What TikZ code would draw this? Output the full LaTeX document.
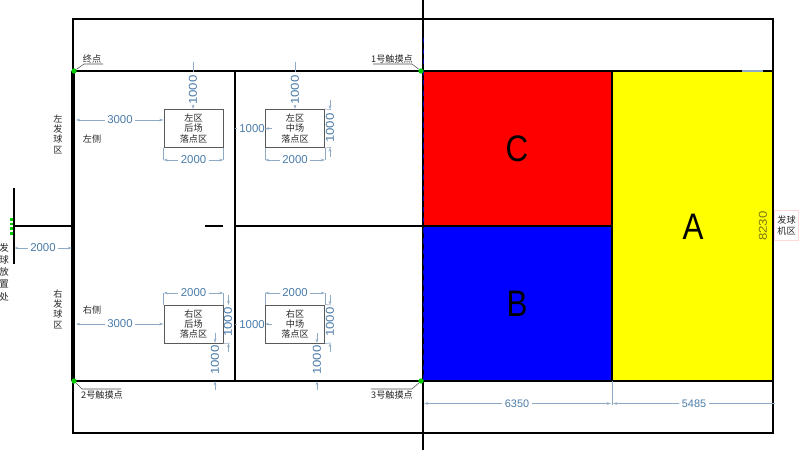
\documentclass[tikz,border=0pt]{standalone}
\usepackage{fontspec}
\usetikzlibrary{arrows.meta}
\setmainfont{Liberation Sans}
\newfontfamily\cjk{Noto Sans CJK SC}
\tikzset{
  dimtext/.style={text=dimblue, font=\fontsize{6.5}{7}\selectfont, inner sep=1.2pt},
  dimvert/.style={dimtext, rotate=90, xscale=1.16},
  dimline/.style={color=dimgray, line width=0.35pt, >={Stealth[length=2.4pt,width=1.5pt]}},
  extline/.style={color=dimgray, line width=0.35pt},
  cntext/.style={font=\cjk\fontsize{5.2}{5.9}\selectfont, align=center, inner sep=0.5pt, text=black!85},
  zonebox/.style={draw=black!65, line width=0.55pt, minimum width=1.18cm, minimum height=0.76cm, cntext},
  hitdot/.style={fill=green!80!black, draw=none, circle, minimum size=3pt, inner sep=0pt},
  leader/.style={color=black!70, line width=0.3pt},
  letter/.style={font=\fontsize{21}{21}\selectfont, text=black, xscale=0.85}
}
\definecolor{dimblue}{HTML}{4A7BA8}
\definecolor{dimgray}{HTML}{8FAAC4}
\definecolor{zonered}{RGB}{255,0,0}
\definecolor{zoneblue}{RGB}{0,0,255}
\definecolor{zoneyellow}{RGB}{255,255,0}
\begin{document}
\begin{tikzpicture}[x=0.02cm, y=-0.02cm]
\useasboundingbox (0,0) rectangle (800,450);

\coordinate (LT) at (73,71);
\coordinate (LB) at (73,381);
\coordinate (MT) at (423,71);
\coordinate (MB) at (423,381);
\coordinate (RT) at (773,71);
\coordinate (RB) at (773,381);
\coordinate (ST) at (612,71);
\coordinate (SB) at (612,381);
\coordinate (MM) at (423,226);
\coordinate (SM) at (612,226);
\coordinate (HT) at (235,71);
\coordinate (HB) at (235,381);
\coordinate (HM) at (235,226);
\coordinate (LM) at (73,226);
\coordinate (PM) at (14,226);

% coloured zones
\fill[zonered] (MT) rectangle (SM);
\fill[zoneblue] (MM) rectangle (SB);
\fill[zoneyellow] (ST) rectangle (RB);
\node[letter] (zoneC) at (517,149) {C};
\node[letter] (zoneB) at (517,304) {B};
\node[letter] (zoneA) at (693,227) {A};

% court lines
\draw[line width=1.1pt] (73,19) rectangle (773,433);
\draw[line width=1.1pt] (LT) -- (RT);
\draw[line width=1.1pt] (LB) -- (RB);
\draw[line width=1.8pt] (LT) -- (LB);
\draw[line width=1pt] (HT) -- (HB);
\draw[line width=1pt] (HM) -- (MM);
\draw[line width=1pt] (MM) -- (SM);
\draw[line width=1pt] (ST) -- (SB);
\draw[line width=1pt] (RT) -- (RB);
\draw[line width=0.8pt] (423,0) -- (423,450);
\draw[color=blue!70!black, dashed, line width=0.4pt] (423,38) -- (MB);
\draw[line width=0.6pt] (205,226) -- (223,226);
\draw[line width=0.8pt] (PM) -- (LM);
\draw[line width=0.8pt] (14,188) -- (14,264);
\draw[color=green!80!black, line width=1.6pt, densely dotted] (11.5,218) -- (11.5,236);

\node[hitdot] (hitA) at (74,71) {};
\node[hitdot] (hitB) at (74,381) {};
\node[hitdot] (hitC) at (421,71) {};
\node[hitdot] (hitD) at (421,381) {};

% landing boxes
\node[zonebox] (leftBack) at (193.5,128.5) {左区\\后场\\落点区};
\node[zonebox] (leftMid) at (295,128.5) {左区\\中场\\落点区};
\node[zonebox] (rightBack) at (193.5,324) {右区\\后场\\落点区};
\node[zonebox] (rightMid) at (295,324) {右区\\中场\\落点区};

% labels
\node[cntext] (endPt) at (92,59) {终点};
\node[cntext] (touchA) at (392,59) {1号触摸点};
\node[cntext] (touchB) at (102,395) {2号触摸点};
\node[cntext] (touchC) at (392,395) {3号触摸点};
\draw[leader] (103,64) -- (84,64) -- (hitA);
\draw[leader] (373,64) -- (412,64) -- (hitC);
\draw[leader] (121,389) -- (82,389) -- (hitB);
\draw[leader] (371,389) -- (412,389) -- (hitD);
\node[cntext] (leftSide) at (92,139) {左侧};
\node[cntext] (rightSide) at (92,310) {右侧};
\node[cntext] (leftServe) at (58,134) {左\\发\\球\\区};
\node[cntext] (rightServe) at (58,309) {右\\发\\球\\区};
\node[cntext, font=\cjk\fontsize{5.4}{7}\selectfont] (ballPlace) at (4,272) {发\\球\\放\\置\\处};
\node[cntext, draw=red!15, line width=0.4pt, inner xsep=1.5pt, inner ysep=3pt] (machine) at (786.5,225.5) {发球\\机区};

% horizontal dimensions
\node[dimtext] (dimLt) at (120,120) {3000};
\draw[dimline,->] (dimLt) -- (76,120);
\draw[dimline,->] (dimLt) -- (dimLt -| leftBack.west);
\node[dimtext] (dimRt) at (120,324) {3000};
\draw[dimline,->] (dimRt) -- (76,324);
\draw[dimline,->] (dimRt) -- (rightBack.west);
\node[dimtext] (dimServe) at (43,248) {2000};
\draw[dimline,->] (dimServe) -- (14,248);
\draw[dimline,->] (dimServe) -- (72,248);

\node[dimtext] (dimGapL) at (252,128.5) {1000};
\draw[dimline] (dimGapL) -- (HT |- dimGapL);
\draw[dimline,->] (272,128.5) -- (leftMid.west);
\node[dimtext] (dimGapR) at (252,324.5) {1000};
\draw[dimline] (dimGapR) -- (HT |- dimGapR);
\draw[dimline,->] (272,324) -- (rightMid.west);

\foreach \boxname/\dimname/\ypos in {leftBack/wLB/160, leftMid/wLM/160, rightBack/wRB/293, rightMid/wRM/293}{
  \path (\boxname.center |- 0,\ypos) node[dimtext] (\dimname) {2000};
  \draw[dimline,->] (\dimname) -- (\dimname -| \boxname.west);
  \draw[dimline,->] (\dimname) -- (\dimname -| \boxname.east);
}
\draw[extline] (leftBack.south west) -- (wLB -| leftBack.west);
\draw[extline] (leftBack.south east) -- (wLB -| leftBack.east);
\draw[extline] (leftMid.south west) -- (wLM -| leftMid.west);
\draw[extline] (leftMid.south east) -- (wLM -| leftMid.east);
\draw[extline] (rightBack.north west) -- (wRB -| rightBack.west);
\draw[extline] (rightBack.north east) -- (wRB -| rightBack.east);
\draw[extline] (rightMid.north west) -- (wRM -| rightMid.west);
\draw[extline] (rightMid.north east) -- (wRM -| rightMid.east);

% vertical dimensions
\node[dimvert] (dimTopL) at (193,90) {1000};
\draw[dimline] (193,62) -- (193,72);
\draw[dimline,->] (193,105) -- (leftBack.north -| dimTopL);
\node[dimvert] (dimTopM) at (295,90) {1000};
\draw[dimline] (295,62) -- (295,72);
\draw[dimline,->] (295,105) -- (leftMid.north);

\node[dimvert] (dimSideL) at (330,128) {1000};
\draw[dimline,->] (330,100) -- (330,109.5);
\draw[dimline,->] (330,157) -- (330,147.5);
\draw[extline] (leftMid.north east) -- (331,109.5);
\draw[extline] (leftMid.south east) -- (331,147.5);

\node[dimvert] (dimSideB) at (228,322) {1000};
\draw[dimline,->] (228.5,295) -- (228.5,305);
\draw[dimline,->] (228.5,352) -- (228.5,343);
\draw[extline] (rightBack.south east) -- (230,343);

\node[dimvert] (dimSideM) at (330,322) {1000};
\draw[dimline,->] (330,295) -- (330,305);
\draw[dimline,->] (330,352) -- (330,343);
\draw[extline] (rightMid.north east) -- (331,305);
\draw[extline] (rightMid.south east) -- (331,343);

\node[dimvert] (dimLowB) at (215,360) {1000};
\draw[dimline,->] (215,333) -- (215,343);
\draw[dimline,->] (215,390) -- (215,381);
\node[dimvert] (dimLowM) at (317,360) {1000};
\draw[dimline,->] (317,333) -- (317,343);
\draw[dimline,->] (317,390) -- (317,381);

\node[dimtext, font=\fontsize{6.2}{7}\selectfont] (dimWide) at (517,403.5) {6350};
\draw[dimline,->] (dimWide) -- (424,403.5);
\draw[dimline,->] (dimWide) -- (611,403.5);
\node[dimtext, font=\fontsize{6.2}{7}\selectfont] (dimNarrow) at (694,403.5) {5485};
\draw[dimline,->] (dimNarrow) -- (613,403.5);
\draw[dimline] (dimNarrow) -- (775,403.5);
\draw[extline] (SB) -- (612,405);

\node[dimvert, text=olive!85!black] (dimDepth) at (763,226) {8230};
\draw[extline, line width=0.8pt] (742,71) -- (763,71);
\end{tikzpicture}
\end{document}
